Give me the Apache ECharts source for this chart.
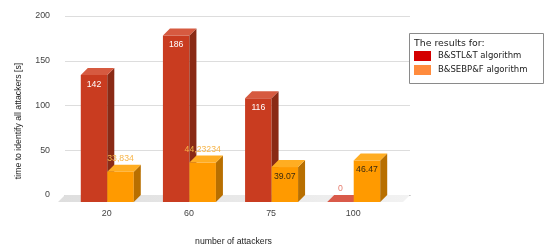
<!DOCTYPE html>
<html>
<head>
<meta charset="utf-8">
<script src="https://cdn.jsdelivr.net/npm/echarts@6/dist/echarts.min.js"></script>
<style>html,body{margin:0;padding:0;background:#fff}#c{width:550px;height:251px}</style>
</head>
<body>
<div id="c"></div>
<script>
const categories = ['20', '60', '75', '100'];
const seriesNames = ['B&STL&T algorithm', 'B&SEBP&F algorithm'];
const redValues = [142, 186, 116, 0];
const orangeValues = [33.834, 44.23234, 39.07, 46.47];
const redLabels = ['142', '186', '116', '0'];
const orangeLabels = ['33,834', '44,23234', '39.07', '46.47'];
const yTicks = [0, 50, 100, 150, 200];

const FONT = '"Liberation Sans", Arial, sans-serif';
const DX = 7, DY = 7, BW = 26.5;
const palette = [
  {front: '#c93c20', top: '#d65a40', side: '#8a2a15', flat: '#d95a4a', outText: '#e57b6d', inText: '#ffffff', legend: '#d40000'},
  {front: '#ff9a00', top: '#ffad22', side: '#b86f00', flat: '#ffad22', outText: '#f7b54a', inText: '#3a2a10', legend: '#ff8b3d'}
];

function makeRender(s, labels) {
  return function (params, api) {
    const i = api.value(0), v = api.value(1);
    const back = api.coord([i, v]);
    const base = api.coord([i, 0]);
    const cx = base[0];
    const c = palette[s];
    const x0 = cx - DX - BW + s * BW, x1 = x0 + BW;
    const yTop = back[1] + DY, yBot = base[1] + DY;
    const children = [];
    if (v > 0) {
      children.push({type: 'rect', shape: {x: x0, y: yTop, width: BW, height: yBot - yTop}, style: {fill: c.front}});
      children.push({type: 'polygon', shape: {points: [[x1, yTop], [x1 + DX, yTop - DY], [x1 + DX, yBot - DY], [x1, yBot]]}, style: {fill: c.side}});
      children.push({type: 'polygon', shape: {points: [[x0, yTop], [x1, yTop], [x1 + DX, yTop - DY], [x0 + DX, yTop - DY]]}, style: {fill: c.top}});
    } else {
      children.push({type: 'polygon', shape: {points: [[x0, yTop], [x1, yTop], [x1 + DX, yTop - DY], [x0 + DX, yTop - DY]]}, style: {fill: c.flat}});
    }
    const txt = labels[params.dataIndex];
    const outside = v === 0 || txt.length > 5;
    children.push({
      type: 'text',
      style: {
        text: txt, x: (x0 + x1) / 2, y: outside ? yTop - 13 : yTop + 9.5,
        fill: outside ? c.outText : c.inText,
        font: 'normal 8.7px ' + FONT, textAlign: 'center', textVerticalAlign: 'middle'
      }
    });
    return {type: 'group', children: children};
  };
}

const chart = echarts.init(document.getElementById('c'), null, {renderer: 'canvas'});
const option = {
  animation: false,
  grid: {left: 65, right: 140, top: 16, bottom: 51},
  xAxis: {
    type: 'value', min: -0.6, max: 3.6,
    name: 'number of attackers', nameLocation: 'middle', nameGap: 42,
    nameTextStyle: {fontFamily: FONT, fontSize: 8.7, color: '#222', padding: [0, 8, 0, 0]},
    axisLine: {show: true, lineStyle: {color: '#999', width: 1}},
    axisTick: {show: false},
    splitLine: {show: false},
    axisLabel: {
      customValues: [0, 1, 2, 3], margin: 14,
      formatter: function (val) { return '{a|' + categories[Math.round(val)] + '}'; },
      rich: {a: {fontFamily: FONT, fontSize: 8.9, color: '#444', padding: [0, 15, 0, 0]}}
    }
  },
  yAxis: {
    type: 'value', min: yTicks[0], max: yTicks[yTicks.length - 1], interval: 50,
    axisLine: {show: false}, axisTick: {show: false},
    splitLine: {lineStyle: {color: '#dddddd', width: 1}},
    axisLabel: {margin: 15, fontFamily: FONT, fontSize: 8.9, color: '#444'}
  },
  legend: {
    orient: 'vertical', left: 414, top: 51, padding: 0, itemGap: 4,
    itemWidth: 17, itemHeight: 10, icon: 'rect', selectedMode: false, z: 6,
    data: seriesNames,
    textStyle: {fontFamily: 'DejaVu Sans', fontSize: 8.5, color: '#222', padding: [0, 0, 0, 2]}
  },
  graphic: [
    {type: 'rect', z: 5, shape: {x: 409.5, y: 33.5, width: 134, height: 50}, style: {fill: '#fff', stroke: '#8a8a8a', lineWidth: 1}},
    {type: 'text', z: 6, style: {text: 'The results for:', x: 414, y: 44, font: 'normal 9.4px "DejaVu Sans"', fill: '#222', textVerticalAlign: 'middle'}},
    {type: 'text', z: 6, rotation: Math.PI / 2, x: 19, y: 121, style: {text: 'time to identify all attackers [s]', x: 0, y: 0, font: 'normal 8.7px ' + FONT, fill: '#222', textAlign: 'center', textVerticalAlign: 'middle'}}
  ],
  series: [
    {
      type: 'custom', name: 'floor', z: 1, silent: true,
      data: [[0]],
      renderItem: function (params, api) {
        const a = api.coord([-0.6, 0]), b = api.coord([3.6, 0]);
        return {type: 'polygon', shape: {points: [[a[0], a[1]], [b[0], b[1]], [b[0] - DX, b[1] + DY], [a[0] - DX, a[1] + DY]]},
          style: {fill: new echarts.graphic.LinearGradient(0, 0, 1, 0, [{offset: 0, color: '#dedede'}, {offset: 1, color: '#f2f2f2'}])}};
      }
    },
    {
      type: 'custom', name: seriesNames[0], z: 3,
      itemStyle: {color: palette[0].legend},
      data: redValues.map((v, i) => [i, v]),
      renderItem: makeRender(0, redLabels)
    },
    {
      type: 'custom', name: seriesNames[1], z: 4,
      itemStyle: {color: palette[1].legend},
      data: orangeValues.map((v, i) => [i, v]),
      renderItem: makeRender(1, orangeLabels)
    }
  ]
};
chart.setOption(option);
</script>
</body>
</html>
